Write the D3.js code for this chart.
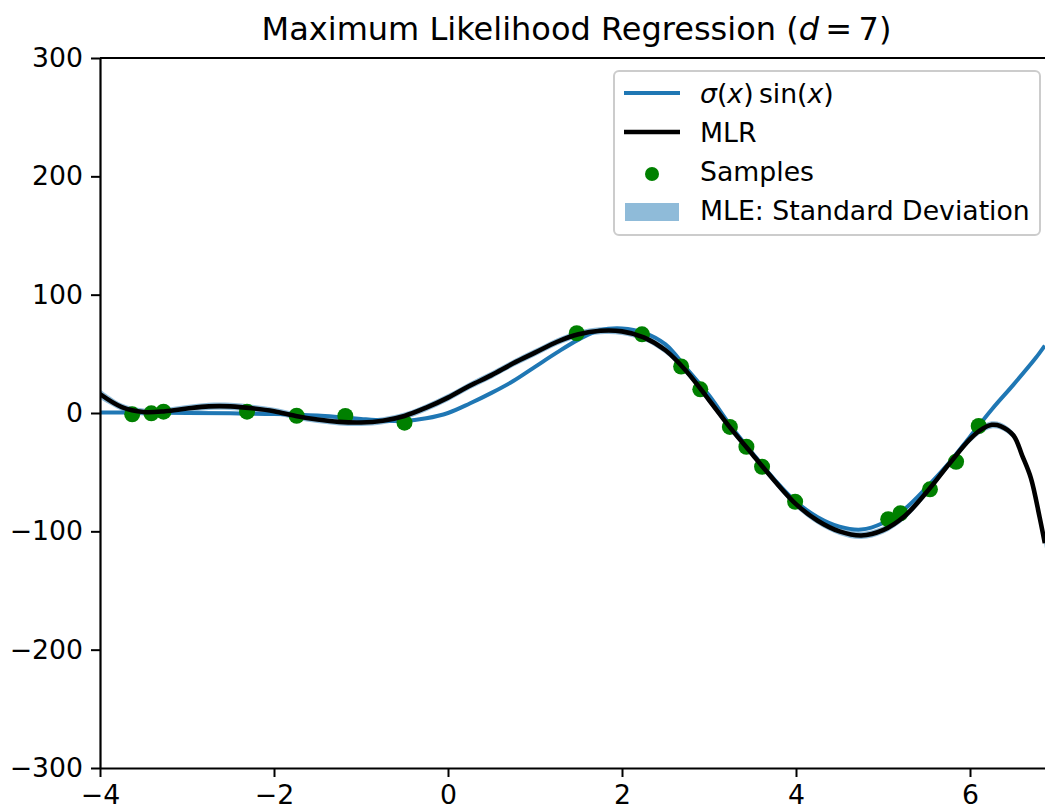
<!DOCTYPE html>
<html>

<head>
    <script src="https://cdnjs.cloudflare.com/ajax/libs/d3/7.8.5/d3.min.js"></script>
    <style>
        body {
            margin: 0;
            background: white;
        }

        text {
            font-family: 'DejaVu Sans', sans-serif;
            fill: black;
        }
    </style>
</head>

<body>
    <script>
        // axis ticks
        const xTicks = [-4, -2, 0, 2, 4, 6]
        const yTicks = [-300, -200, -100, 0, 100, 200, 300]

        // sigma(x) sin(x)
        const trueX = [-4, -3.5, -3, -2.5, -2, -1.5, -1.25, -1, -0.75, -0.5, -0.25, 0, 0.25, 0.5, 0.75, 1, 1.25, 1.5, 1.75, 2,
            2.25, 2.5, 2.75, 3, 3.25, 3.5, 3.75, 4, 4.25, 4.5, 4.75, 5, 5.25, 5.5, 5.75, 6, 6.25, 6.5, 6.75, 6.86]
        const trueY = [0.5, 0.4, 0.1, -0.3, -0.9, -2.2, -3.5, -5, -6.3, -6.8, -4.5, 0, 8, 17, 27, 39, 51, 62, 70, 71.5,
            68, 58, 37, 15, -11, -34, -56, -75, -88, -96, -98.5, -93, -81, -63, -43, -20, 3, 24, 46, 57]

        // maximum likelihood regression and its standard deviation
        const mlrX = [-4, -3.75, -3.5, -3.25, -3, -2.75, -2.5, -2.25, -2, -1.75, -1.5, -1.25, -1, -0.75, -0.5, -0.25, 0, 0.25,
            0.5, 0.75, 1, 1.25, 1.5, 1.75, 2, 2.25, 2.5, 2.75, 3, 3.25, 3.5, 3.75, 4, 4.25, 4.5, 4.75, 5, 5.25, 5.5, 5.75,
            6, 6.15, 6.25, 6.35, 6.5, 6.6, 6.7, 6.8, 6.86]
        const mlrY = [16, 5, 0.8, 1.5, 3.8, 5.6, 5.6, 4, 1.5, -2.5, -5.5, -7.5, -8, -6.5, -2.5, 4.5, 13, 23,
            32, 42, 51, 60, 66.5, 69.5, 69, 64, 53, 34.5, 11, -13, -35, -57, -77, -91, -100, -103.5, -99, -87, -67, -44,
            -22, -13, -10, -11, -19, -36, -55, -88, -110]
        const mlrStd = [4, 3, 3, 3, 3, 3, 3, 3, 3, 3, 3, 3, 3, 3, 3, 3, 3, 3,
            3, 3, 3, 3, 3, 3, 3, 3, 3, 3, 3, 3, 3, 3, 3, 3, 3, 3, 3, 3, 3, 3,
            3, 3, 3, 3, 3, 3, 3, 3, 4]

        // noisy samples
        const sampleX = [-3.63, -3.41, -3.27, -2.31, -1.74, -1.18, -0.5, 1.48, 2.23, 2.68, 2.9, 3.24, 3.43, 3.61, 3.99,
            5.06, 5.2, 5.54, 5.84, 6.1]
        const sampleY = [-1.1, -0.3, 1.1, 1.1, -2.3, -2.5, -8.2, 67.4, 66.5, 39.3, 20, -11.8, -28.5, -45.4, -75,
            -89.8, -84.8, -64.5, -41.2, -11]

        const w = 1045
        const h = 811
        const mLeft = 100, mRight = 1057, mTop = 58, mBottom = 768

        const svg = d3.select("body")
            .append("svg")
            .attr("width", w)
            .attr("height", h)

        const x = d3.scaleLinear().domain([-4, 7]).range([mLeft, mRight])
        const y = d3.scaleLinear().domain([-300, 300]).range([mBottom, mTop])

        svg.append("clipPath").attr("id", "plot")
            .append("rect")
            .attr("x", mLeft).attr("y", mTop)
            .attr("width", mRight - mLeft).attr("height", mBottom - mTop)

        const plot = svg.append("g").attr("clip-path", "url(#plot)")

        const curve = d3.curveCatmullRom.alpha(0.5)

        // std band
        const band = d3.area()
            .x(i => x(mlrX[i]))
            .y0(i => y(mlrY[i] - mlrStd[i]))
            .y1(i => y(mlrY[i] + mlrStd[i]))
            .curve(curve)
        plot.append("path")
            .attr("d", band(d3.range(mlrX.length)))
            .attr("fill", "#1f77b4")
            .attr("fill-opacity", 0.5)

        // true function
        const trueLine = d3.line()
            .x(i => x(trueX[i]))
            .y(i => y(trueY[i]))
            .curve(curve)
        plot.append("path")
            .attr("d", trueLine(d3.range(trueX.length)))
            .attr("fill", "none")
            .attr("stroke", "#1f77b4")
            .attr("stroke-width", 4)

        // samples
        plot.selectAll("circle")
            .data(d3.range(sampleX.length))
            .enter()
            .append("circle")
            .attr("cx", i => x(sampleX[i]))
            .attr("cy", i => y(sampleY[i]))
            .attr("r", 8)
            .attr("fill", "green")

        // MLR
        const mlrLine = d3.line()
            .x(i => x(mlrX[i]))
            .y(i => y(mlrY[i]))
            .curve(curve)
        plot.append("path")
            .attr("d", mlrLine(d3.range(mlrX.length)))
            .attr("fill", "none")
            .attr("stroke", "black")
            .attr("stroke-width", 4.6)

        // axes
        const xAxis = svg.append("g")
            .attr("transform", `translate(0,${mBottom})`)
            .call(d3.axisBottom(x).tickValues(xTicks).tickSize(9).tickPadding(8).tickSizeOuter(0))
        const yAxis = svg.append("g")
            .attr("transform", `translate(${mLeft},0)`)
            .call(d3.axisLeft(y).tickValues(yTicks).tickSize(9).tickPadding(8).tickSizeOuter(0))

        for (const ax of [xAxis, yAxis]) {
            ax.select(".domain").attr("stroke-width", 2.2)
            ax.selectAll(".tick line").attr("stroke-width", 2)
            ax.selectAll(".tick text").attr("font-size", 26.7).attr("font-family", "'DejaVu Sans', sans-serif")
        }

        // top spine
        svg.append("line")
            .attr("x1", mLeft).attr("x2", mRight)
            .attr("y1", mTop).attr("y2", mTop)
            .attr("stroke", "black")
            .attr("stroke-width", 2.2)

        // title
        const title = svg.append("text")
            .attr("x", (mLeft + mRight) / 2 - 2)
            .attr("y", 40)
            .attr("text-anchor", "middle")
            .attr("font-size", 32)
        title.append("tspan").text("Maximum Likelihood Regression (")
        title.append("tspan").attr("font-style", "italic").text("d")
        title.append("tspan").text("\u2009=\u20097)")

        // legend
        const lg = svg.append("g")
        lg.append("rect")
            .attr("x", 614).attr("y", 71)
            .attr("width", 426).attr("height", 164)
            .attr("rx", 5)
            .attr("fill", "white").attr("fill-opacity", 0.8)
            .attr("stroke", "#cccccc").attr("stroke-width", 2)

        lg.append("line").attr("x1", 624).attr("x2", 680).attr("y1", 93).attr("y2", 93)
            .attr("stroke", "#1f77b4").attr("stroke-width", 4)
        lg.append("line").attr("x1", 624).attr("x2", 680).attr("y1", 132).attr("y2", 132)
            .attr("stroke", "black").attr("stroke-width", 4.6)
        lg.append("circle").attr("cx", 652).attr("cy", 174).attr("r", 7).attr("fill", "green")
        lg.append("rect").attr("x", 625).attr("y", 203).attr("width", 54).attr("height", 18)
            .attr("fill", "#1f77b4").attr("fill-opacity", 0.5)

        const t1 = lg.append("text").attr("x", 700).attr("y", 103).attr("font-size", 26.7)
        t1.append("tspan").attr("font-style", "italic").text("σ")
        t1.append("tspan").text("(")
        t1.append("tspan").attr("font-style", "italic").text("x")
        t1.append("tspan").text(")\u2009sin(")
        t1.append("tspan").attr("font-style", "italic").text("x")
        t1.append("tspan").text(")")

        const labels = ["MLR", "Samples", "MLE: Standard Deviation"]
        const baselines = [142, 181, 220]
        labels.forEach((l, i) => {
            lg.append("text")
                .attr("x", 700)
                .attr("y", baselines[i])
                .attr("font-size", 26.7)
                .text(l)
        })
    </script>
</body>

</html>
